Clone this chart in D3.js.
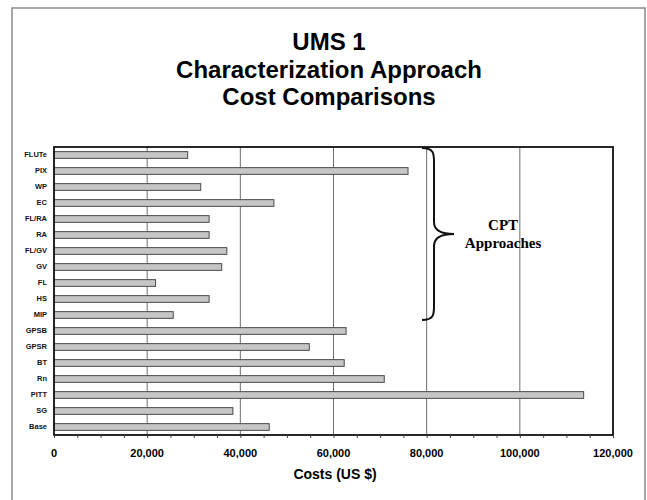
<!DOCTYPE html>
<html>
<head>
<meta charset="utf-8">
<script src="https://cdn.jsdelivr.net/npm/d3@7"></script>
<style>
  body { margin: 0; background: #fff; }
  svg { display: block; }
</style>
</head>
<body>
<div id="chart"></div>
<script>
// UMS 1 characterization approach costs

const titleLines = ["UMS 1", "Characterization Approach", "Cost Comparisons"];

const approaches = ["FLUTe", "PIX", "WP", "EC", "FL/RA", "RA", "FL/GV", "GV", "FL", "HS", "MIP",
                    "GPSB", "GPSR", "BT", "Rn", "PITT", "SG", "Base"];
const costs = [28700, 76000, 31500, 47200, 33300, 33300, 37100, 36000, 21800, 33300, 25600,
               62700, 54800, 62300, 70900, 113700, 38400, 46200];

// the brace covers the CPT approaches: FLUTe .. MIP
const cptGroup = ["FLUTe", "MIP"];
const cptLabel = ["CPT", "Approaches"];

const xTicks = [0, 20000, 40000, 60000, 80000, 100000, 120000];
const xMinorTicks = d3.range(0, 120001, 5000);

const data = approaches.map((a, i) => ({ name: a, cost: costs[i] }));

const W = 647, H = 500;
const margin = { top: 147, right: 34, bottom: 65, left: 54 };
const width = W - margin.left - margin.right;
const height = H - margin.top - margin.bottom;

const svg = d3.select("#chart")
    .append("svg")
    .attr("width", W)
    .attr("height", H);

// outer slide frame
svg.append("path")
    .attr("d", `M12,${H} L12,8 L645,8 L645,${H}`)
    .attr("fill", "none")
    .attr("stroke", "#8a8a8a")
    .attr("stroke-width", 1.5);

// title
svg.append("text")
    .attr("x", 329)
    .attr("text-anchor", "middle")
    .style("font-family", "'Liberation Sans', Arial, sans-serif")
    .style("font-weight", "bold")
    .style("font-size", "24px")
    .selectAll("tspan")
    .data(titleLines)
    .enter()
    .append("tspan")
    .attr("x", 329)
    .attr("y", (d, i) => 50 + i * 27.5)
    .text(d => d);

const g = svg.append("g")
    .attr("transform", `translate(${margin.left},${margin.top})`);

const x = d3.scaleLinear()
    .domain([0, 120000])
    .range([0, width]);

const y = d3.scaleBand()
    .domain(approaches)
    .range([0, height])
    .paddingInner(0.58)
    .paddingOuter(0.29);

// major gridlines
g.selectAll("line.grid")
    .data(xTicks.slice(1, -1))
    .enter()
    .append("line")
    .attr("class", "grid")
    .attr("x1", d => x(d))
    .attr("x2", d => x(d))
    .attr("y1", 0)
    .attr("y2", height)
    .attr("stroke", "#6e6e6e")
    .attr("stroke-width", 1);

// bars
g.selectAll("rect.bar")
    .data(data)
    .enter()
    .append("rect")
    .attr("class", "bar")
    .attr("x", 0)
    .attr("y", d => y(d.name))
    .attr("width", d => x(d.cost))
    .attr("height", y.bandwidth())
    .attr("fill", "#c6c6c6")
    .attr("stroke", "#4a4a4a")
    .attr("stroke-width", 1);

// plot frame
g.append("rect")
    .attr("x", 0)
    .attr("y", 0)
    .attr("width", width)
    .attr("height", height)
    .attr("fill", "none")
    .attr("stroke", "#111")
    .attr("stroke-width", 1.8);

// minor tick marks along the bottom
const xAxis = g.append("g")
    .attr("transform", `translate(0,${height})`)
    .call(d3.axisBottom(x).tickValues(xMinorTicks).tickSize(3).tickFormat(""));
xAxis.select(".domain").remove();
xAxis.selectAll("line").attr("stroke", "#444");

// x tick labels
g.append("g")
    .selectAll("text")
    .data(xTicks)
    .enter()
    .append("text")
    .attr("x", d => x(d))
    .attr("y", height + 22)
    .attr("text-anchor", "middle")
    .style("font-family", "'Liberation Sans', Arial, sans-serif")
    .style("font-weight", "bold")
    .style("font-size", "11px")
    .text(d => d3.format(",")(d));

// y axis labels
const yAxis = g.append("g")
    .call(d3.axisLeft(y).tickSize(0).tickPadding(7));
yAxis.select(".domain").remove();
yAxis.selectAll("text")
    .style("font-family", "'Liberation Sans', Arial, sans-serif")
    .style("font-weight", "bold")
    .style("font-size", "7.5px")
    .attr("fill", "#111");

// x axis title
svg.append("text")
    .attr("x", 335)
    .attr("y", 479)
    .attr("text-anchor", "middle")
    .style("font-family", "'Liberation Sans', Arial, sans-serif")
    .style("font-weight", "bold")
    .style("font-size", "14px")
    .text("Costs (US $)");

// curly brace for the CPT group
const bTop = y(cptGroup[0]) - y.step() * y.paddingInner() / 2 + 1;
const bBot = y(cptGroup[1]) + y.bandwidth() + y.step() * y.paddingInner() / 2 - 3;
const bMid = (bTop + bBot) / 2;
const bx = x(79000);
const bw = 12, tip = 32;
const brace = d3.path();
brace.moveTo(bx, bTop);
brace.bezierCurveTo(bx + bw, bTop, bx + bw, bTop + 6, bx + bw, bTop + 14);
brace.lineTo(bx + bw, bMid - 12);
brace.bezierCurveTo(bx + bw, bMid - 3, bx + bw + 8, bMid, bx + tip, bMid);
brace.bezierCurveTo(bx + bw + 8, bMid, bx + bw, bMid + 3, bx + bw, bMid + 12);
brace.lineTo(bx + bw, bBot - 14);
brace.bezierCurveTo(bx + bw, bBot - 6, bx + bw, bBot, bx, bBot);
g.append("path")
    .attr("d", brace.toString())
    .attr("fill", "none")
    .attr("stroke", "#111")
    .attr("stroke-width", 2);

g.append("text")
    .attr("text-anchor", "middle")
    .style("font-family", "'Liberation Serif', 'Times New Roman', serif")
    .style("font-weight", "bold")
    .style("font-size", "15px")
    .selectAll("tspan")
    .data(cptLabel)
    .enter()
    .append("tspan")
    .attr("x", x(96400))
    .attr("y", (d, i) => bMid - 4 + i * 18)
    .text(d => d);
</script>
</body>
</html>
